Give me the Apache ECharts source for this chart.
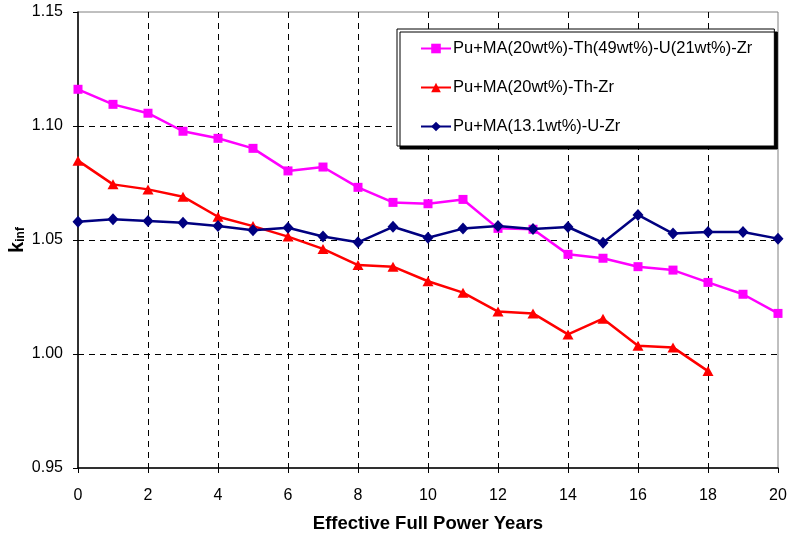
<!DOCTYPE html>
<html>
<head>
<meta charset="utf-8">
<script src="https://cdn.jsdelivr.net/npm/echarts@6/dist/echarts.min.js"></script>
<style>
  html, body { margin: 0; padding: 0; background: #fff; }
  #chart { width: 787px; height: 535px; }
</style>
</head>
<body>
<div id="chart"></div>
<script>
// Effective full power years
const years = [0, 1, 2, 3, 4, 5, 6, 7, 8, 9, 10, 11, 12, 13, 14, 15, 16, 17, 18, 19, 20];

// k-infinity per fuel composition
const kThU = [1.1161, 1.1095, 1.1056, 1.0977, 1.0946, 1.0902, 1.0803, 1.0820, 1.0731, 1.0665, 1.0659,
              1.0678, 1.0551, 1.0547, 1.0437, 1.0420, 1.0383, 1.0368, 1.0314, 1.0262, 1.0178];
const kTh = [1.0848, 1.0744, 1.0722, 1.0690, 1.0602, 1.0561, 1.0515, 1.0461, 1.0390, 1.0383, 1.0319,
             1.0269, 1.0186, 1.0178, 1.0086, 1.0155, 1.0036, 1.0029, 0.9925];
const kU = [1.0580, 1.0591, 1.0583, 1.0576, 1.0561, 1.0543, 1.0554, 1.0515, 1.0490, 1.0558, 1.0510,
            1.0550, 1.0561, 1.0548, 1.0557, 1.0488, 1.0610, 1.0528, 1.0535, 1.0535, 1.0506];

const seriesNames = [
  'Pu+MA(20wt%)-Th(49wt%)-U(21wt%)-Zr',
  'Pu+MA(20wt%)-Th-Zr',
  'Pu+MA(13.1wt%)-U-Zr'
];

const FONT = 'Liberation Sans, Arial, sans-serif';
const pairs = arr => arr.map((v, i) => [years[i], v]);

const chart = echarts.init(document.getElementById('chart'), null, { renderer: 'canvas' });

chart.setOption({
  animation: false,
  backgroundColor: '#fff',
  grid: {
    left: 78, top: 12, right: 9, bottom: 67,
    outerBoundsMode: 'none',
    containLabel: false,
    show: true, borderColor: '#808080', borderWidth: 1, backgroundColor: 'transparent'
  },
  legend: {
    orient: 'vertical',
    left: 397, top: 29,
    padding: [11, 22, 11, 23],
    itemGap: 22,
    itemWidth: 30, itemHeight: 12,
    backgroundColor: '#fff',
    borderColor: '#000', borderWidth: 1,
    shadowColor: '#000', shadowBlur: 0, shadowOffsetX: 3, shadowOffsetY: 3,
    textStyle: { fontFamily: FONT, fontSize: 16.5, color: '#000', padding: [0, 0, 0, -3] },
    data: seriesNames
  },
  xAxis: {
    type: 'value',
    min: 0, max: 20, interval: 2,
    name: 'Effective Full Power Years',
    nameLocation: 'middle', nameGap: 46, nameMoveOverlap: false,
    nameTextStyle: { fontFamily: FONT, fontSize: 18.5, fontWeight: 'bold', color: '#000' },
    axisLine: { lineStyle: { color: '#000', width: 1.5 } },
    axisTick: { show: true, inside: false, length: 5, lineStyle: { color: '#000' } },
    axisLabel: { fontFamily: FONT, fontSize: 16, color: '#000', margin: 20 },
    splitLine: {
      show: true, showMinLine: false, showMaxLine: false,
      lineStyle: { color: '#000', type: [6, 5], width: 1 }
    }
  },
  yAxis: {
    type: 'value',
    min: 0.95, max: 1.15, interval: 0.05,
    name: '{k|k}{s|inf}',
    nameLocation: 'middle', nameGap: 51, nameRotate: 90, nameMoveOverlap: false,
    nameTextStyle: {
      rich: {
        k: { fontFamily: FONT, fontSize: 20, fontWeight: 'bold', color: '#000' },
        s: { fontFamily: FONT, fontSize: 12, fontWeight: 'bold', color: '#000', verticalAlign: 'bottom', padding: [7, 0, 0, 0] }
      }
    },
    axisLine: { show: true, lineStyle: { color: '#000', width: 1.5 } },
    axisTick: { show: true, inside: false, length: 5, lineStyle: { color: '#000' } },
    axisLabel: {
      fontFamily: FONT, fontSize: 16, color: '#000', margin: 15,
      formatter: v => v.toFixed(2)
    },
    splitLine: {
      show: true, showMinLine: false, showMaxLine: false,
      lineStyle: { color: '#000', type: [6, 5], width: 1 }
    }
  },
  series: [
    {
      name: seriesNames[0], type: 'line', data: pairs(kThU),
      symbol: 'rect', symbolSize: 9,
      lineStyle: { color: '#ff00ff', width: 2.5 },
      itemStyle: { color: '#ff00ff' }, z: 3
    },
    {
      name: seriesNames[1], type: 'line', data: pairs(kTh),
      symbol: 'triangle', symbolSize: [11, 10],
      lineStyle: { color: '#ff0000', width: 2.5 },
      itemStyle: { color: '#ff0000' }, z: 4
    },
    {
      name: seriesNames[2], type: 'line', data: pairs(kU),
      symbol: 'diamond', symbolSize: [11, 12],
      lineStyle: { color: '#000080', width: 2.5 },
      itemStyle: { color: '#000080' }, z: 5
    }
  ]
});
</script>
</body>
</html>
